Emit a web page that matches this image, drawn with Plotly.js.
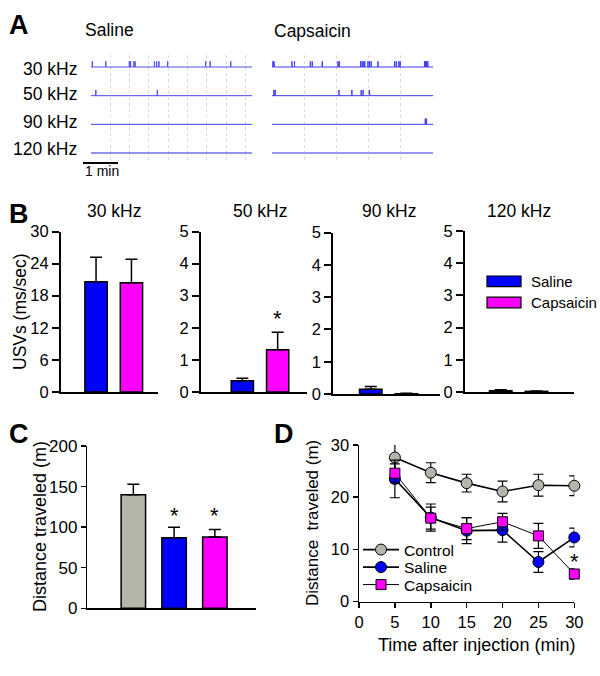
<!DOCTYPE html>
<html><head><meta charset="utf-8">
<script src="https://cdn.plot.ly/plotly-3.0.1.min.js"></script>
<style>html,body{margin:0;padding:0;background:#fff}</style>
</head><body><div id="chart" style="width:600px;height:676px"></div>
<script>
// ===== Data =====
// Panel A: USV event times (min) per frequency band
const conditions = ['Saline', 'Capsaicin'];
const bandLabels = ['30 kHz', '50 kHz', '90 kHz', '120 kHz'];
const recordMinutes = 5;
const sal30 = [0.04, 0.46, 1.19, 1.23, 1.33, 1.37, 1.97, 2.04, 2.11, 2.38, 3.56, 3.70, 4.34];
const sal50 = [0.15, 2.06];
const sal90 = [];
const sal120 = [];
const cap30 = [0.03, 0.06, 0.08, 0.62, 0.70, 1.19, 1.25, 1.56, 2.05, 2.09, 2.75, 2.80, 2.83, 2.88, 2.98, 3.03, 3.08, 3.29, 3.81, 3.86, 3.94, 3.98, 4.74, 4.77, 4.80, 4.84];
const cap50 = [0.06, 0.10, 2.08, 2.48, 2.77, 2.83, 3.02, 3.04];
const cap90 = [4.76, 4.78, 4.80];
const cap120 = [];
const scaleBarMin = 1;

// Panel B: USVs (ms/sec)
const usvSaline = [20.6, 0.35, 0.15, 0.04];
const usvSalineSem = [4.6, 0.08, 0.08, 0.03];
const usvCaps = [20.4, 1.32, 0.01, 0.02];
const usvCapsSem = [4.4, 0.54, 0.01, 0.01];
const usvSig = [false, true, false, false];

// Panel C: distance traveled (m)
const distGroups = ['Control', 'Saline', 'Capsaicin'];
const distMean = [140, 87, 88];
const distSem = [13, 13, 9];
const distSig = [false, true, true];

// Panel D: time course
const times = [5, 10, 15, 20, 25, 30];
const ctrlDist = [27.6, 24.7, 22.7, 21.1, 22.3, 22.2];
const ctrlSem = [3.1, 1.9, 1.7, 2.0, 2.1, 1.9];
const salDist = [23.5, 16.1, 13.6, 13.7, 7.6, 12.3];
const salSem = [3.6, 2.6, 2.5, 2.3, 2.0, 1.8];
const capDist = [24.6, 16.0, 14.0, 15.3, 12.6, 5.3];
const capSem = [1.8, 2.1, 2.1, 1.6, 2.4, 1.0];
const timeSig = [false, false, false, false, false, true];

// ===== Helpers =====
const W = 600, H = 676;
const px = v => v / W;
const py = v => 1 - v / H;
const FONT = 'Liberation Sans, Arial, Helvetica, sans-serif';
const BLUE = '#0000ff', MAG = '#ff00ff', GRAY = '#b6b5a9';
const SPIKE_H = 0.2;

const traces = [];
const annotations = [];
const shapes = [];

// ===== Panel A =====
function spikeTrace(tms, row, xa, color, width) {
  const b = -row;
  const xs = [0], ys = [b];
  tms.forEach(t => { xs.push(t, t, t); ys.push(b, b + SPIKE_H, b); });
  xs.push(recordMinutes); ys.push(b);
  return {type: 'scatter', mode: 'lines', x: xs, y: ys, xaxis: xa, yaxis: 'y',
    line: {color: color, width: width}, hoverinfo: 'skip', showlegend: false};
}
const salRows = [sal30, sal50, sal90, sal120];
const capRows = [cap30, cap50, cap90, cap120];
const salColors = ['#5050f2', '#4848f0', '#3c3cf0', '#2626d0'];
salRows.forEach((r, i) => traces.push(spikeTrace(r, i, 'x', salColors[i], 1)));
capRows.forEach((r, i) => traces.push(spikeTrace(r, i, 'x2', i === 3 ? '#9a9af6' : '#3c3cf4', i === 3 ? 2 : 1)));

const rowLabelY = [69, 94, 121.5, 149];
bandLabels.forEach((t, i) => annotations.push({text: t, xref: 'paper', yref: 'paper',
  x: px(79), y: py(rowLabelY[i]), xanchor: 'right', yanchor: 'middle', showarrow: false,
  font: {size: 17.5}}));
annotations.push({text: conditions[0], xref: 'paper', yref: 'paper', x: px(83), y: py(30),
  xanchor: 'left', yanchor: 'middle', showarrow: false, font: {size: 17.5}});
annotations.push({text: conditions[1], xref: 'paper', yref: 'paper', x: px(272), y: py(31),
  xanchor: 'left', yanchor: 'middle', showarrow: false, font: {size: 17.5}});
// scale bar
shapes.push({type: 'line', xref: 'paper', yref: 'paper', x0: px(83), x1: px(83 + 35 * scaleBarMin), y0: py(163), y1: py(163),
  line: {color: '#000', width: 2}});
annotations.push({text: scaleBarMin + ' min', xref: 'paper', yref: 'paper', x: px(83), y: py(171),
  xanchor: 'left', yanchor: 'middle', showarrow: false, font: {size: 14}});

// ===== Panel B =====
const bAx = [
  {xa: 'x3', ya: 'y3', xd: [61, 158], yd: [231.5, 392], xr: [-0.99, 1.75], yr: [0, 30], dt: 6},
  {xa: 'x4', ya: 'y4', xd: [201, 307], yd: [231.5, 392], xr: [-1.17, 1.83], yr: [0, 5], dt: 1},
  {xa: 'x5', ya: 'y5', xd: [333.3, 440], yd: [232.7, 394], xr: [-1.05, 1.94], yr: [0, 5], dt: 1},
  {xa: 'x6', ya: 'y6', xd: [465, 574], yd: [231, 392], xr: [-1.0, 2.05], yr: [0, 5], dt: 1}
];
bAx.forEach((a, i) => {
  traces.push({type: 'bar', x: [0, 1], y: [usvSaline[i], usvCaps[i]], xaxis: a.xa, yaxis: a.ya,
    width: 0.63, marker: {color: [BLUE, MAG], line: {color: '#000', width: 1.5}},
    error_y: {type: 'data', symmetric: false, array: [usvSalineSem[i], usvCapsSem[i]], arrayminus: [0, 0],
      color: '#000', thickness: 1.5, width: 6},
    showlegend: false, hoverinfo: 'skip'});
  annotations.push({text: bandLabels[i], xref: a.xa, yref: 'paper', x: 0.5, y: py(211),
    xanchor: 'center', yanchor: 'middle', showarrow: false, font: {size: 17.5}});
  if (usvSig[i]) {
    annotations.push({text: '*', xref: a.xa, yref: a.ya, x: 1, y: usvCaps[i] + usvCapsSem[i],
      xanchor: 'center', yanchor: 'bottom', yshift: -1, showarrow: false, font: {size: 22}});
  }
});
annotations.push({text: 'USVs (ms/sec)', xref: 'paper', yref: 'paper', x: px(20), y: py(312),
  xanchor: 'center', yanchor: 'middle', textangle: -90, showarrow: false, font: {size: 17.5}});
// B legend (boxes)
const legBoxY = [281.3, 302.5];
conditions.forEach((c, i) => {
  shapes.push({type: 'rect', xref: 'paper', yref: 'paper', x0: px(487), x1: px(521),
    y0: py(legBoxY[i] + 5.3), y1: py(legBoxY[i] - 5.3), fillcolor: i === 0 ? BLUE : MAG,
    line: {color: '#000', width: 1.2}});
  annotations.push({text: c, xref: 'paper', yref: 'paper', x: px(529), y: py(legBoxY[i]),
    xanchor: 'left', yanchor: 'middle', showarrow: false, font: {size: 15}});
});

// ===== Panel C =====
traces.push({type: 'bar', x: distGroups.map((g, i) => i), y: distMean, xaxis: 'x7', yaxis: 'y7',
  width: 0.6, marker: {color: [GRAY, BLUE, MAG], line: {color: '#000', width: 1.5}},
  error_y: {type: 'data', symmetric: false, array: distSem, arrayminus: distSem.map(() => 0),
    color: '#000', thickness: 1.5, width: 6},
  showlegend: false, hoverinfo: 'skip'});
const cStarY = Math.max(...distMean.map((m, i) => distSig[i] ? m + distSem[i] : 0));
distSig.forEach((s, i) => {
  if (s) annotations.push({text: '*', xref: 'x7', yref: 'y7', x: i, y: cStarY,
    xanchor: 'center', yanchor: 'bottom', yshift: -3, showarrow: false, font: {size: 22}});
});
annotations.push({text: 'Distance traveled (m)', xref: 'paper', yref: 'paper', x: px(40), y: py(527),
  xanchor: 'center', yanchor: 'middle', textangle: -90, showarrow: false, font: {size: 18}});

// ===== Panel D =====
const dSeries = [
  {name: distGroups[0], y: ctrlDist, e: ctrlSem, sym: 'circle', col: GRAY, lw: 1.6, sz: 11, leg: 'legend'},
  {name: distGroups[1], y: salDist, e: salSem, sym: 'circle', col: BLUE, lw: 1.6, sz: 11, leg: 'legend2'},
  {name: distGroups[2], y: capDist, e: capSem, sym: 'square', col: MAG, lw: 1, sz: 10, leg: 'legend3'}
];
dSeries.forEach(s => traces.push({type: 'scatter', mode: 'lines+markers', name: s.name, x: times, y: s.y,
  xaxis: 'x8', yaxis: 'y8', cliponaxis: false, legend: s.leg,
  line: {color: '#000', width: s.lw},
  marker: {symbol: s.sym, size: s.sz, color: s.col, line: {color: '#000', width: 1}},
  error_y: {type: 'data', array: s.e, color: '#000', thickness: 1.2, width: 5},
  hoverinfo: 'skip'}));
timeSig.forEach((s, i) => {
  if (s) annotations.push({text: '*', xref: 'x8', yref: 'y8', x: times[i], y: capDist[i] + capSem[i],
    xanchor: 'center', yanchor: 'bottom', yshift: -7, showarrow: false, font: {size: 22}});
});
annotations.push({text: 'Distance  traveled (m)', xref: 'paper', yref: 'paper', x: px(312), y: py(523),
  xanchor: 'center', yanchor: 'middle', textangle: -90, showarrow: false, font: {size: 17}});
annotations.push({text: 'Time after injection (min)', xref: 'paper', yref: 'paper', x: px(476.5), y: py(645),
  xanchor: 'center', yanchor: 'middle', showarrow: false, font: {size: 18}});

// Panel letters
[['A', 7, 25], ['B', 7, 214], ['C', 7, 434], ['D', 272, 434]].forEach(l => annotations.push({
  text: '<b>' + l[0] + '</b>', xref: 'paper', yref: 'paper', x: px(l[1]), y: py(l[2]),
  xanchor: 'left', yanchor: 'middle', showarrow: false, font: {size: 27}}));

// ===== Layout =====
const hidden = {showgrid: false, zeroline: false, showline: false, showticklabels: false, ticks: '', fixedrange: true};
const layout = {
  width: W, height: H, margin: {l: 0, r: 0, t: 0, b: 0},
  paper_bgcolor: '#fff', plot_bgcolor: 'rgba(0,0,0,0)',
  font: {family: FONT, color: '#000', size: 16},
  annotations: annotations, shapes: shapes, bargap: 0,
  xaxis: Object.assign({}, hidden, {domain: [px(91), px(252)], range: [0, recordMinutes], anchor: 'y',
    showgrid: true, gridcolor: '#dadada', griddash: 'dot', gridwidth: 1, tick0: 0, dtick: 0.6}),
  xaxis2: Object.assign({}, hidden, {domain: [px(272), px(433)], range: [0, recordMinutes], anchor: 'y',
    showgrid: true, gridcolor: '#dadada', griddash: 'dot', gridwidth: 1, tick0: 0, dtick: 1}),
  yaxis: Object.assign({}, hidden, {domain: [py(160), py(55)], range: [-3.244, 0.419], anchor: 'x'}),
};
bAx.forEach((a, i) => {
  const n = i + 3;
  layout['xaxis' + n] = Object.assign({}, hidden, {domain: [px(a.xd[0]), px(a.xd[1])], range: a.xr,
    anchor: a.ya, showline: true, linewidth: 2, linecolor: '#000'});
  layout['yaxis' + n] = {domain: [py(a.yd[1]), py(a.yd[0])], range: a.yr, anchor: a.xa, tick0: 0, dtick: a.dt,
    ticks: 'outside', ticklen: 7, tickwidth: 2, tickcolor: '#000', showline: true, linewidth: 2, linecolor: '#000',
    showgrid: false, zeroline: false, tickfont: {size: 16.5}, fixedrange: true};
});
layout.xaxis7 = Object.assign({}, hidden, {domain: [px(87.3), px(256)], range: [-1.13, 3.01], anchor: 'y7',
  showline: true, linewidth: 1.5, linecolor: '#000'});
layout.yaxis7 = {domain: [py(608.3), py(446)], range: [0, 200], anchor: 'x7', tick0: 0, dtick: 50,
  ticks: 'outside', ticklen: 5, tickwidth: 1.5, tickcolor: '#000', showline: true, linewidth: 1.5, linecolor: '#000',
  showgrid: false, zeroline: false, tickfont: {size: 17}, fixedrange: true};
layout.xaxis8 = {domain: [px(359), px(574.3)], range: [0, 30], anchor: 'y8', tick0: 0, dtick: 5,
  ticks: 'outside', ticklen: 5, tickwidth: 1.5, tickcolor: '#000', showline: true, linewidth: 1.5, linecolor: '#000',
  showgrid: false, zeroline: false, tickfont: {size: 16.5}, fixedrange: true};
layout.yaxis8 = {domain: [py(601.7), py(445)], range: [0, 30], anchor: 'x8', tick0: 0, dtick: 10,
  ticks: 'outside', ticklen: 5, tickwidth: 1.5, tickcolor: '#000', showline: true, linewidth: 1.5, linecolor: '#000',
  showgrid: false, zeroline: false, tickfont: {size: 16.5}, fixedrange: true};
const legY = [550, 567.5, 585];
['legend', 'legend2', 'legend3'].forEach((k, i) => {
  layout[k] = {x: px(358), y: py(legY[i]), xanchor: 'left', yanchor: 'middle', bgcolor: 'rgba(0,0,0,0)',
    borderwidth: 0, itemwidth: 36, font: {size: 15.5}, tracegroupgap: 0};
});

Plotly.newPlot('chart', traces, layout, {displayModeBar: false, staticPlot: true});
</script></body></html>
